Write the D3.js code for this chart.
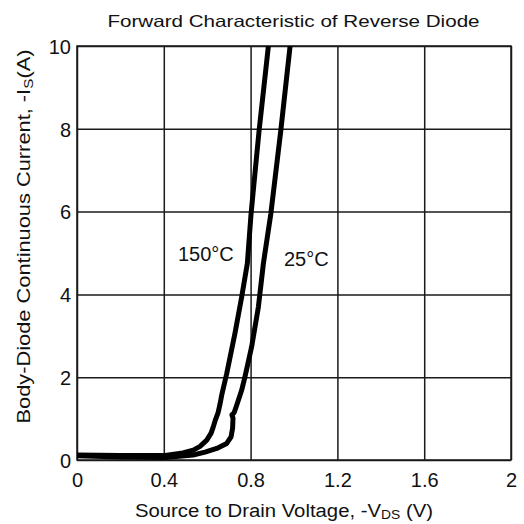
<!DOCTYPE html>
<html>
<head>
<meta charset="utf-8">
<script src="https://cdn.jsdelivr.net/npm/d3@7"></script>
<style>
  body { margin: 0; background: #fff; }
  text { font-family: "Liberation Sans", Arial, sans-serif; fill: #111; }
</style>
</head>
<body>
<div id="chart"></div>
<script>
// set the dimensions of the plot area
var width = 524;
var height = 524;
var plotLeft = 77, plotRight = 511, plotTop = 46, plotBottom = 460;

// tick labels
var xTicks = [0, 0.4, 0.8, 1.2, 1.6, 2];
var yTicks = [0, 2, 4, 6, 8, 10];

// 150°C curve: -VDS (V) and -IS (A)
var v150 = [0, 0.198, 0.406, 0.488, 0.536, 0.567, 0.598, 0.618, 0.628, 0.638, 0.643, 0.650, 0.659, 0.667, 0.690, 0.728, 0.759, 0.785, 0.802, 0.839, 0.882];
var i150 = [0.12, 0.11, 0.11, 0.17, 0.24, 0.33, 0.48, 0.65, 0.80, 0.97, 1.04, 1.14, 1.35, 1.57, 2.09, 3.06, 3.94, 4.75, 5.94, 7.95, 10];

// 25°C curve
var v25 = [0, 0.198, 0.406, 0.535, 0.590, 0.644, 0.690, 0.710, 0.717, 0.719, 0.714, 0.724, 0.739, 0.759, 0.774, 0.805, 0.836, 0.859, 0.893, 0.939, 0.982];
var i25 = [0.10, 0.07, 0.06, 0.12, 0.19, 0.28, 0.40, 0.56, 0.77, 1.01, 1.09, 1.14, 1.37, 1.69, 2.01, 2.74, 3.70, 4.75, 5.94, 7.95, 10];

var svg = d3.select("#chart")
    .append("svg")
        .attr("width", width)
        .attr("height", height);

var x = d3.scaleLinear().domain([0, 2]).range([plotLeft, plotRight]);
var y = d3.scaleLinear().domain([0, 10]).range([plotBottom, plotTop]);

// grid + axes
var gx = svg.append("g")
    .attr("transform", "translate(0," + plotBottom + ")")
    .call(d3.axisBottom(x).tickValues(xTicks).tickSize(-(plotBottom - plotTop)).tickPadding(13).tickFormat(d3.format("")));
var gy = svg.append("g")
    .attr("transform", "translate(" + plotLeft + ",0)")
    .call(d3.axisLeft(y).tickValues(yTicks).tickSize(-(plotRight - plotLeft)).tickPadding(6).tickFormat(d3.format("")));

[gx, gy].forEach(function(g) {
    g.select(".domain").remove();
    g.selectAll(".tick line").attr("stroke", "#1a1a1a").attr("stroke-width", 1.5);
    g.selectAll(".tick text")
        .style("font-family", "'Liberation Sans', Arial, sans-serif")
        .style("font-size", "20px")
        .attr("fill", "#111");
});
gy.selectAll(".tick text").attr("x", -6).attr("dy", "0.36em");

// frame
svg.append("rect")
    .attr("x", plotLeft).attr("y", plotTop)
    .attr("width", plotRight - plotLeft).attr("height", plotBottom - plotTop)
    .attr("fill", "none").attr("stroke", "#1a1a1a").attr("stroke-width", 1.5);

// clip so curves stop at the top of the frame
svg.append("clipPath").attr("id", "clip")
    .append("rect").attr("x", plotLeft).attr("y", plotTop).attr("width", plotRight - plotLeft).attr("height", plotBottom - plotTop);

var line = d3.line()
    .x(function(d) { return x(d[0]); })
    .y(function(d) { return y(d[1]); });

var curves = [d3.zip(v150, i150), d3.zip(v25, i25)];
svg.append("g").attr("clip-path", "url(#clip)")
    .selectAll("path")
    .data(curves)
    .enter()
    .append("path")
    .attr("d", line)
    .attr("fill", "none")
    .attr("stroke", "#000")
    .attr("stroke-width", 5)
    .attr("stroke-linejoin", "round");

// curve labels
svg.append("text")
    .attr("x", 178).attr("y", 261)
    .style("font-size", "20px")
    .text("150°C");
svg.append("text")
    .attr("x", 284).attr("y", 266)
    .style("font-size", "20px")
    .text("25°C");

// title
svg.append("text")
    .attr("transform", "translate(293.5,27) scale(1.25,1)")
    .attr("text-anchor", "middle")
    .style("font-size", "16.5px")
    .text("Forward Characteristic of Reverse Diode");

// x axis title
var xt = svg.append("text")
    .attr("transform", "translate(284,517) scale(1.07,1)")
    .attr("text-anchor", "middle")
    .style("font-size", "19px");
xt.append("tspan").text("Source to Drain Voltage, -V");
xt.append("tspan").attr("dy", 2).style("font-size", "13px").text("DS");
xt.append("tspan").attr("dy", -2).text(" (V)");

// y axis title
var yt = svg.append("text")
    .attr("transform", "translate(30,236.5) rotate(-90) scale(1.18,1)")
    .attr("text-anchor", "middle")
    .style("font-size", "18.5px");
yt.append("tspan").text("Body-Diode Continuous Current, -I");
yt.append("tspan").attr("dy", 3).style("font-size", "13px").text("S");
yt.append("tspan").attr("dy", -3).text("(A)");
</script>
</body>
</html>
